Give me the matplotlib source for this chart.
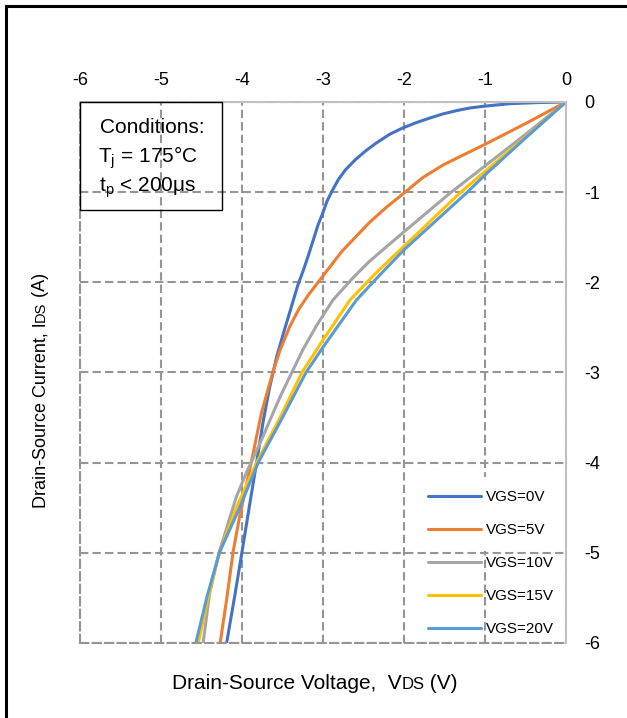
import matplotlib
matplotlib.use("Agg")
import matplotlib.pyplot as plt
from matplotlib.patches import Rectangle

plt.rcParams['font.family'] = ['Liberation Sans', 'DejaVu Sans']
plt.rcParams['axes.unicode_minus'] = False

# values (V in volts, I in amps)
v_0v = [0, -0.35, -0.69, -1.02, -1.19, -1.35, -1.52, -1.68, -1.85, -2.02, -2.18, -2.35,
        -2.47, -2.60, -2.72, -2.81, -2.89, -2.95, -3.01, -3.06, -3.12, -3.18, -3.24,
        -3.31, -3.40, -3.49, -3.57, -3.66, -3.74, -3.82, -3.91, -4.0, -4.09, -4.19]
i_0v = [0, -0.007, -0.019, -0.048, -0.067, -0.096, -0.133, -0.178, -0.23, -0.29, -0.36, -0.46,
        -0.54, -0.64, -0.75, -0.86, -0.99, -1.10, -1.25, -1.36, -1.53, -1.70, -1.86,
        -2.03, -2.30, -2.57, -2.82, -3.17, -3.55, -4.0, -4.49, -4.99, -5.48, -6.0]

v_5v = [0, -0.5, -1.0, -1.25, -1.52, -1.77, -2.0, -2.22, -2.43, -2.60, -2.77, -3.01,
        -3.18, -3.30, -3.41, -3.53, -3.62, -3.76, -3.88, -3.95, -4.03, -4.11, -4.19, -4.27]
i_5v = [0, -0.24, -0.47, -0.58, -0.70, -0.84, -1.01, -1.17, -1.34, -1.50, -1.66, -1.94,
        -2.14, -2.30, -2.49, -2.75, -3.0, -3.45, -3.97, -4.27, -4.6, -4.99, -5.52, -6.0]

v_10v = [0, -0.5, -1.0, -1.43, -2.0, -2.43, -2.64, -2.88, -3.08, -3.25, -3.39, -3.53,
         -3.78, -3.95, -4.07, -4.28, -4.40, -4.48]
i_10v = [0, -0.36, -0.71, -1.01, -1.44, -1.77, -1.96, -2.20, -2.48, -2.75, -3.01, -3.27,
         -3.79, -4.12, -4.38, -4.99, -5.45, -6.0]

v_15v = [0, -0.5, -1.0, -1.31, -2.0, -2.35, -2.67, -3.0, -3.26, -3.53, -3.82, -4.07,
         -4.28, -4.42, -4.54]
i_15v = [0, -0.39, -0.77, -1.01, -1.60, -1.90, -2.20, -2.64, -3.0, -3.5, -4.0, -4.5,
         -5.0, -5.5, -6.0]

v_20v = [0, -0.5, -1.0, -1.23, -2.0, -2.30, -2.59, -3.0, -3.21, -3.50, -3.80, -4.03,
         -4.28, -4.43, -4.57]
i_20v = [0, -0.40, -0.81, -1.01, -1.64, -1.92, -2.20, -2.72, -3.0, -3.5, -4.0, -4.5,
         -5.0, -5.48, -6.0]

labels = ['VGS=0V', 'VGS=5V', 'VGS=10V', 'VGS=15V', 'VGS=20V']
colors = ['#4472C4', '#ED7D31', '#A5A5A5', '#FFC000', '#5B9BD5']
x_ticks = [-6, -5, -4, -3, -2, -1, 0]
y_ticks = [0, -1, -2, -3, -4, -5, -6]

fig = plt.figure(figsize=(6.27, 7.18), dpi=100)
ax = fig.add_axes([0.1276, 0.1045, 0.7751, 0.7535])

series = [(v_0v, i_0v), (v_5v, i_5v), (v_10v, i_10v), (v_15v, i_15v), (v_20v, i_20v)]
for (v, i), lab, col in zip(series, labels, colors):
    ax.plot(v, i, color=col, lw=2.2, label=lab, solid_capstyle='round', solid_joinstyle='round')

ax.set_xlim(-6, 0)
ax.set_ylim(-6, 0)
ax.set_xticks(x_ticks)
ax.set_yticks(y_ticks)
ax.xaxis.tick_top()
ax.yaxis.tick_right()
ax.tick_params(axis='x', length=0, labelsize=13, pad=9)
ax.tick_params(axis='y', length=0, labelsize=13, pad=13)

dash = (0, (4, 2))
ax.set_axisbelow(True)
ax.grid(True, color='#959595', linestyle=dash, linewidth=1.5)
for side in ['top', 'right']:
    ax.spines[side].set_color('#C0C0C0')
    ax.spines[side].set_linewidth(1.5)
for side in ['left', 'bottom']:
    ax.spines[side].set_color('#959595')
    ax.spines[side].set_linewidth(1.5)
    ax.spines[side].set_linestyle(dash)

# conditions box
ax.add_patch(Rectangle((0, 0.800), 0.292, 0.200, transform=ax.transAxes,
                       facecolor='none', edgecolor='black', lw=1, zorder=3, clip_on=False))
ax.text(0.041, 0.9433, 'Conditions:', transform=ax.transAxes, fontsize=15, va='baseline')
ax.text(0.037, 0.8878, r'T$_\mathregular{j}$ = 175°C', transform=ax.transAxes, fontsize=15, va='baseline')
ax.text(0.039, 0.8355, r't$_\mathregular{p}$ < 200μs', transform=ax.transAxes, fontsize=15, va='baseline')

# white area behind legend top rows
ax.add_patch(Rectangle((0.70, 0.170), 0.30, 0.137, transform=ax.transAxes,
                       facecolor='white', edgecolor='none', zorder=1))
ax.legend(loc='lower left', bbox_to_anchor=(0.716, 0.012), frameon=False,
          fontsize=11, handlelength=3.5, handletextpad=0.3, labelspacing=1.25,
          borderpad=0, borderaxespad=0)

# x label with small "DS"
x0, y0 = 0.2738, 0.0404
t1 = fig.text(x0, y0, 'Drain-Source Voltage,  V', fontsize=15, ha='left', va='baseline')
t2 = ax.annotate('DS', xy=(1, y0), xycoords=(t1, 'figure fraction'), fontsize=12,
                 ha='left', va='baseline')
ax.annotate(' (V)', xy=(1, y0), xycoords=(t2, 'figure fraction'), fontsize=15,
            ha='left', va='baseline')

# y label with small "DS"
yx, yy = 0.0718, 0.2925
s1 = fig.text(yx, yy, 'Drain-Source Current, I', fontsize=13, rotation=90,
              rotation_mode='anchor', ha='left', va='baseline')
s2 = ax.annotate('DS', xy=(yx, 1), xycoords=('figure fraction', s1), fontsize=10.5,
                 rotation=90, rotation_mode='anchor', ha='left', va='baseline')
ax.annotate(' (A)', xy=(yx, 1), xycoords=('figure fraction', s2), fontsize=13,
            rotation=90, rotation_mode='anchor', ha='left', va='baseline')

# outer frame, cut off at right and bottom like the reference
fig.patches.append(Rectangle((5.7 / 627, -0.1), 1.2, 1.1 - 5.7 / 718, transform=fig.transFigure,
                             facecolor='none', edgecolor='black', lw=2.2))

fig.savefig('out.png', dpi=100)
